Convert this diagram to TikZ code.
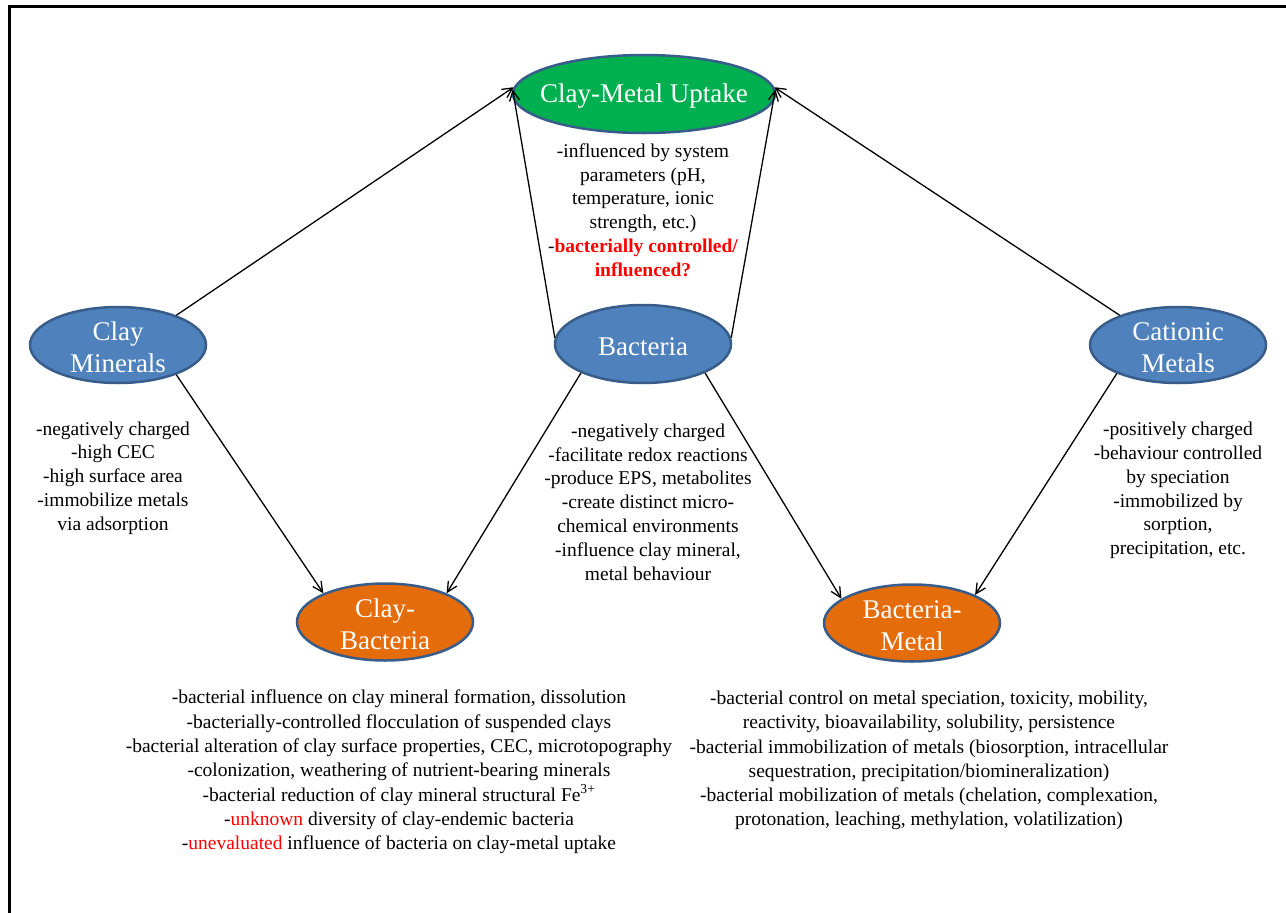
\documentclass[tikz,border=0pt]{standalone}
\usepackage{fontspec}
\setmainfont{Liberation Serif}
\usetikzlibrary{shapes.geometric,arrows.meta}
\definecolor{nodeblue}{HTML}{4F81BD}
\definecolor{nodeborder}{HTML}{385D8A}
\definecolor{nodegreen}{HTML}{00B050}
\definecolor{nodeorange}{HTML}{E46C0A}
\definecolor{hired}{HTML}{FF0000}
\begin{document}
\begin{tikzpicture}[x=1pt,y=-1pt,
  oval/.style={ellipse, draw=nodeborder, line width=2.5pt, minimum width=176pt, minimum height=76pt, inner sep=0pt},
  ovaltext/.style={text=white, font=\fontsize{27}{32.5}\selectfont, align=center, inner sep=0pt, yshift=-2.5pt},
  desc/.style={font=\fontsize{19.5}{23.8}\selectfont, align=center, inner sep=0pt},
  descwide/.style={desc, font=\fontsize{19.5}{24.3}\selectfont},
  conn/.style={-{Straight Barb[length=10pt,width=10pt]}, line width=1.3pt},
  frame/.style={line width=2.5pt}
]
\useasboundingbox (0,0) rectangle (1286,913);
\coordinate (f1) at (9.5,913);
\coordinate (f2) at (9.5,6.5);
\coordinate (f3) at (1286,6.5);
\draw[frame] (f1) -- (f2) -- (f3);

% ellipses
\node[oval, fill=nodegreen, minimum width=262pt, minimum height=78pt] (up) at (644,94) {};
\node[ovaltext] (uplbl) at (up) {Clay-Metal Uptake};
\node[oval, fill=nodeblue] (cm) at (118,345) {};
\node[ovaltext] (cmlbl) at (cm) {Clay\\Minerals};
\node[oval, fill=nodeblue, minimum height=78pt] (bac) at (643,344) {};
\node[ovaltext] (baclbl) at (bac) {Bacteria};
\node[oval, fill=nodeblue] (cat) at (1178,345) {};
\node[ovaltext] (catlbl) at (cat) {Cationic\\Metals};
\node[oval, fill=nodeorange, minimum height=77pt] (cb) at (385,622) {};
\node[ovaltext] (cblbl) at (cb) {Clay-\\Bacteria};
\node[oval, fill=nodeorange, minimum height=77pt] (bm) at (912,623) {};
\node[ovaltext] (bmlbl) at (bm) {Bacteria-\\Metal};

% connectors
\draw[conn] (cm.27) -- (up.177);
\draw[conn] (bac.176) -- (up.178);
\draw[conn] (bac.4) -- (up.2);
\draw[conn] (cat.153) -- (up.3);
\draw[conn] (cm.-27) -- (cb.155);
\draw[conn] (bac.205) -- (cb.25);
\draw[conn] (bac.-25) -- (bm.161);
\draw[conn] (cat.205) -- (bm.24);

% descriptions
\node[desc] (uptxt) at (643,210) {-influenced by system\\parameters (pH,\\temperature, ionic\\strength, etc.)\\-{\color{hired}\bfseries bacterially controlled/}\\{\color{hired}\bfseries influenced?}};
\node[desc] (cmtxt) at (113,478) {-negatively charged\\-high CEC\\-high surface area\\-immobilize metals\\via adsorption};
\node[desc] (bactxt) at (648,502) {-negatively charged\\-facilitate redox reactions\\-produce EPS, metabolites\\-create distinct micro-\\chemical environments\\-influence clay mineral,\\metal behaviour};
\node[desc] (cattxt) at (1178,490.5) {-positively charged\\-behaviour controlled\\by speciation\\-immobilized by\\sorption,\\precipitation, etc.};
\node[descwide] (cbtxt) at (399,772) {-bacterial influence on clay mineral formation, dissolution\\-bacterially-controlled flocculation of suspended clays\\-bacterial alteration of clay surface properties, CEC, microtopography\\-colonization, weathering of nutrient-bearing minerals\\-bacterial reduction of clay mineral structural Fe\textsuperscript{3+}\\-{\color{hired}unknown} diversity of clay-endemic bacteria\\-{\color{hired}unevaluated} influence of bacteria on clay-metal uptake};
\node[descwide] (bmtxt) at (929,760.5) {-bacterial control on metal speciation, toxicity, mobility,\\reactivity, bioavailability, solubility, persistence\\-bacterial immobilization of metals (biosorption, intracellular\\sequestration, precipitation/biomineralization)\\-bacterial mobilization of metals (chelation, complexation,\\protonation, leaching, methylation, volatilization)};
\end{tikzpicture}
\end{document}
